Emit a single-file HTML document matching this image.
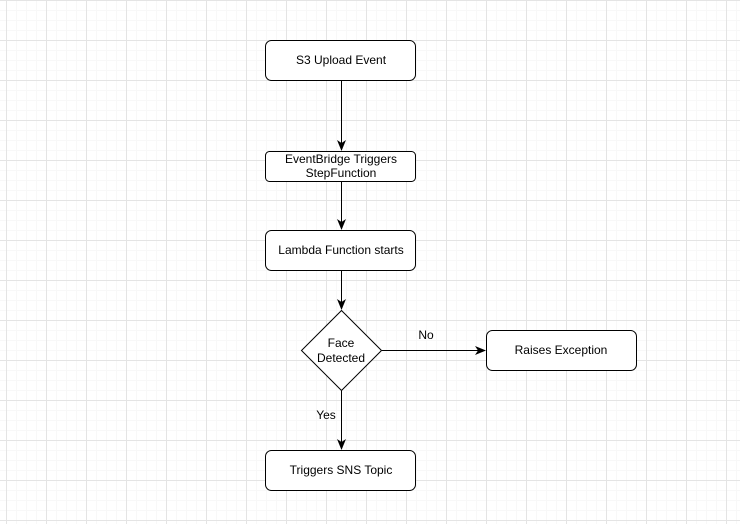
<!DOCTYPE html><html><head><style>
body{margin:0;width:740px;height:524px;overflow:hidden;background:#fff;
background-image:linear-gradient(#e4e4e4 1px,transparent 1px),linear-gradient(90deg,#e4e4e4 1px,transparent 1px),linear-gradient(#f8f8f8 1px,transparent 1px),linear-gradient(90deg,#f8f8f8 1px,transparent 1px);
background-size:40px 40px,40px 40px,10px 10px,10px 10px;background-position:0 0,6px 0,0 0,6px 0;}
</style></head><body>
<svg width="740" height="524" style="position:absolute;left:0;top:0" font-family="Liberation Sans, sans-serif" font-size="12">
<defs><marker id="a" markerWidth="12" markerHeight="12" refX="10" refY="6" orient="auto" markerUnits="userSpaceOnUse"><path d="M0,1.5 L11,6 L0,10.5 L3,6z" fill="#000"/></marker></defs>
<g fill="#fff" stroke="#000" stroke-width="1">
<rect x="265.5" y="40.5" width="150" height="40" rx="6"/>
<rect x="265.5" y="151.5" width="150" height="30" rx="4"/>
<rect x="265.5" y="230.5" width="150" height="40" rx="6"/>
<polygon points="341.5,310.5 381.5,350.5 341.5,390.5 301.5,350.5"/>
<rect x="486.5" y="330.5" width="150" height="40" rx="6"/>
<rect x="265.5" y="450.5" width="150" height="40" rx="6"/>
</g>
<g stroke="#000" fill="none">
<line x1="341.5" y1="81" x2="341.5" y2="150" marker-end="url(#a)"/>
<line x1="341.5" y1="182" x2="341.5" y2="229" marker-end="url(#a)"/>
<line x1="341.5" y1="271" x2="341.5" y2="309" marker-end="url(#a)"/>
<line x1="382" y1="350.5" x2="485" y2="350.5" marker-end="url(#a)"/>
<line x1="341.5" y1="391" x2="341.5" y2="449" marker-end="url(#a)"/>
</g>
<g text-anchor="middle" fill="#000">
<text x="341" y="64">S3 Upload Event</text>
<text x="341" y="163">EventBridge Triggers</text>
<text x="341" y="177">StepFunction</text>
<text x="341" y="254">Lambda Function starts</text>
<text x="341" y="347">Face</text>
<text x="341" y="362">Detected</text>
<text x="561" y="354">Raises Exception</text>
<text x="341" y="474">Triggers SNS Topic</text>
<text x="426" y="339">No</text>
<text x="326" y="419">Yes</text>
</g>
</svg>
</body></html>
